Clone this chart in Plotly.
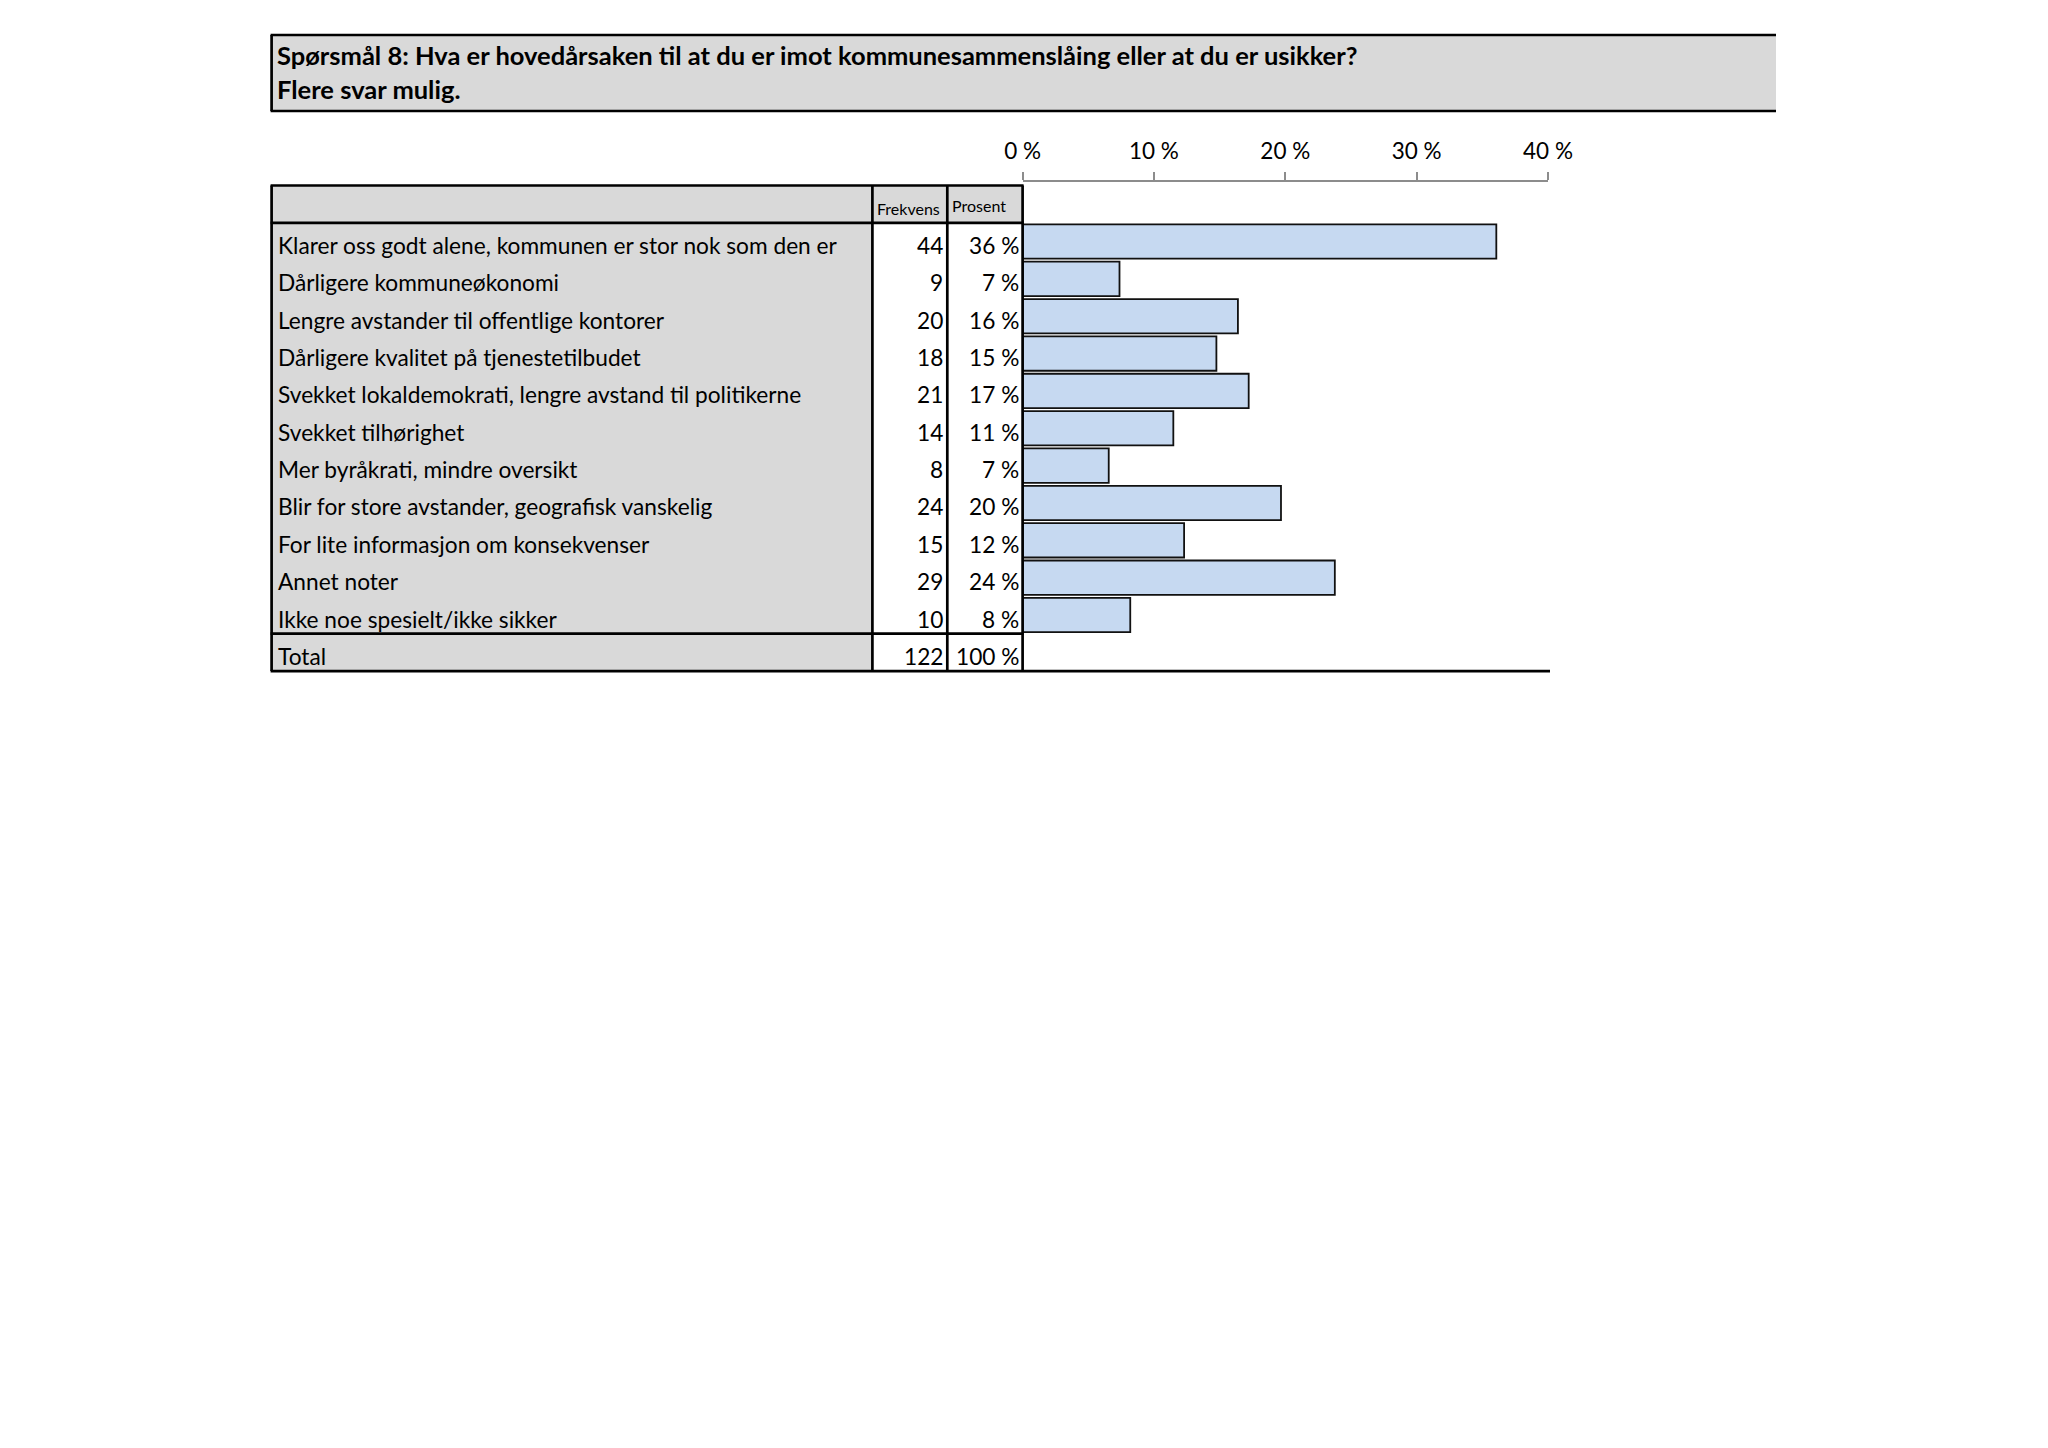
import plotly.graph_objects as go

# Data
title_lines = [
    "Spørsmål 8: Hva er hovedårsaken til at du er imot kommunesammenslåing eller at du er usikker?",
    "Flere svar mulig.",
]
labels = [
    "Klarer oss godt alene, kommunen er stor nok som den er",
    "Dårligere kommuneøkonomi",
    "Lengre avstander til offentlige kontorer",
    "Dårligere kvalitet på tjenestetilbudet",
    "Svekket lokaldemokrati, lengre avstand til politikerne",
    "Svekket tilhørighet",
    "Mer byråkrati, mindre oversikt",
    "Blir for store avstander, geografisk vanskelig",
    "For lite informasjon om konsekvenser",
    "Annet noter",
    "Ikke noe spesielt/ikke sikker",
]
freq = [44, 9, 20, 18, 21, 14, 8, 24, 15, 29, 10]
pct_text = ["36 %", "7 %", "16 %", "15 %", "17 %", "11 %", "7 %", "20 %", "12 %", "24 %", "8 %"]
total_label = "Total"
total_freq = 122
total_pct = "100 %"
header_cols = ["Frekvens", "Prosent"]
tick_vals = [0, 0.1, 0.2, 0.3, 0.4]
tick_text = ["0 %", "10 %", "20 %", "30 %", "40 %"]

share = [f / total_freq for f in freq]

W, H = 2048, 1448
FONT = "Lato"
GRAY = "#D9D9D9"
BAR = "#C6D9F1"


def px(x):
    return x / W


def py(y):
    return 1 - y / H


# table geometry (pixels)
x_left, x_c1, x_c2, x_c3, x_end = 271.6, 872.4, 947.3, 1022.6, 1548
row_px = 37.35
top_px = 185.5
pad = 0.1
n_rows = len(labels)
y_top, y_bot = -1.5, n_rows + 0.5

fig = go.Figure()

fig.add_trace(go.Bar(
    x=share,
    y=list(range(n_rows)),
    orientation="h",
    width=0.92,
    marker=dict(color=BAR, line=dict(color="#111111", width=1.8)),
    hoverinfo="skip",
    showlegend=False,
))

shapes = []
# title box
shapes.append(dict(type="rect", xref="paper", yref="paper", x0=px(x_left), x1=px(1776),
                   y0=py(111), y1=py(35), fillcolor=GRAY, line_width=0, layer="below"))
for yy in (35, 111):
    shapes.append(dict(type="line", xref="paper", yref="paper", x0=px(x_left - 1), x1=px(1776),
                       y0=py(yy), y1=py(yy), line=dict(color="black", width=2.7)))
shapes.append(dict(type="line", xref="paper", yref="paper", x0=px(x_left), x1=px(x_left),
                   y0=py(111), y1=py(35), line=dict(color="black", width=2.7)))

# table backgrounds
shapes.append(dict(type="rect", xref="paper", yref="y", x0=px(x_left), x1=px(x_c1),
                   y0=y_top, y1=y_bot, fillcolor=GRAY, line_width=0, layer="below"))
shapes.append(dict(type="rect", xref="paper", yref="y", x0=px(x_c1), x1=px(x_c3),
                   y0=y_top, y1=-0.5, fillcolor=GRAY, line_width=0, layer="below"))

# table borders
for yy in (y_top, -0.5, n_rows - 0.5):
    shapes.append(dict(type="line", xref="paper", yref="y", x0=px(x_left - 1), x1=px(x_c3 + 1),
                       y0=yy, y1=yy, line=dict(color="black", width=2.7)))
shapes.append(dict(type="line", xref="paper", yref="y", x0=px(x_left - 1), x1=px(x_end + 2),
                   y0=y_bot, y1=y_bot, line=dict(color="black", width=2.7)))
for xx in (x_left, x_c1, x_c2, x_c3):
    shapes.append(dict(type="line", xref="paper", yref="y", x0=px(xx), x1=px(xx),
                       y0=y_top, y1=y_bot, line=dict(color="black", width=2.7)))

annotations = []
for i, line in enumerate(title_lines):
    annotations.append(dict(xref="paper", yref="paper", x=px(275), y=py(55 + 34 * i),
                            xanchor="left", yanchor="middle", text="<b>%s</b>" % line,
                            showarrow=False, font=dict(family=FONT, size=25.5, color="black")))

annotations.append(dict(xref="paper", yref="y", x=px(x_c1 + 3), y=-1, yshift=-4,
                        xanchor="left", yanchor="middle", text=header_cols[0], showarrow=False,
                        font=dict(family=FONT, size=16, color="black")))
annotations.append(dict(xref="paper", yref="y", x=px(x_c2 + 3), y=-1, yshift=-1,
                        xanchor="left", yanchor="middle", text=header_cols[1], showarrow=False,
                        font=dict(family=FONT, size=16, color="black")))

rows = list(zip(labels, [str(f) for f in freq], pct_text)) + [(total_label, str(total_freq), total_pct)]
for i, (lab, fr, pc) in enumerate(rows):
    common = dict(yref="y", y=i, yshift=-4, yanchor="middle", showarrow=False,
                  font=dict(family=FONT, size=22.7, color="black"))
    annotations.append(dict(xref="paper", x=px(x_left + 4), xanchor="left", text=lab, **common))
    annotations.append(dict(xref="paper", x=px(x_c2 - 2), xanchor="right", text=fr, **common))
    annotations.append(dict(xref="paper", x=px(x_c3 - 2), xanchor="right", text=pc, **common))

fig.update_layout(
    width=W,
    height=H,
    margin=dict(l=0, r=0, t=0, b=0, pad=0, autoexpand=False),
    paper_bgcolor="white",
    plot_bgcolor="rgba(0,0,0,0)",
    bargap=0.08,
    shapes=shapes,
    annotations=annotations,
    xaxis=dict(
        domain=[px(x_c3), px(x_end)],
        range=[0, 0.4],
        side="top",
        tickvals=tick_vals,
        ticktext=tick_text,
        ticks="outside",
        ticklen=8,
        tickwidth=1.5,
        tickcolor="#8C8C8C",
        showline=True,
        linecolor="#8C8C8C",
        linewidth=1.5,
        showgrid=False,
        zeroline=False,
        automargin=False,
        ticklabelstandoff=4,
        tickfont=dict(family=FONT, size=22.5, color="black"),
        fixedrange=True,
    ),
    yaxis=dict(
        domain=[py(top_px + (n_rows + 2) * row_px + pad * row_px), py(top_px - pad * row_px)],
        range=[y_bot + pad, y_top - pad],
        visible=False,
        automargin=False,
        fixedrange=True,
    ),
)

# drop the default page margin so the figure sits at the window origin
fig.write_html("out.html", config={"displayModeBar": False},
               post_script="document.body.style.margin='0px';")
